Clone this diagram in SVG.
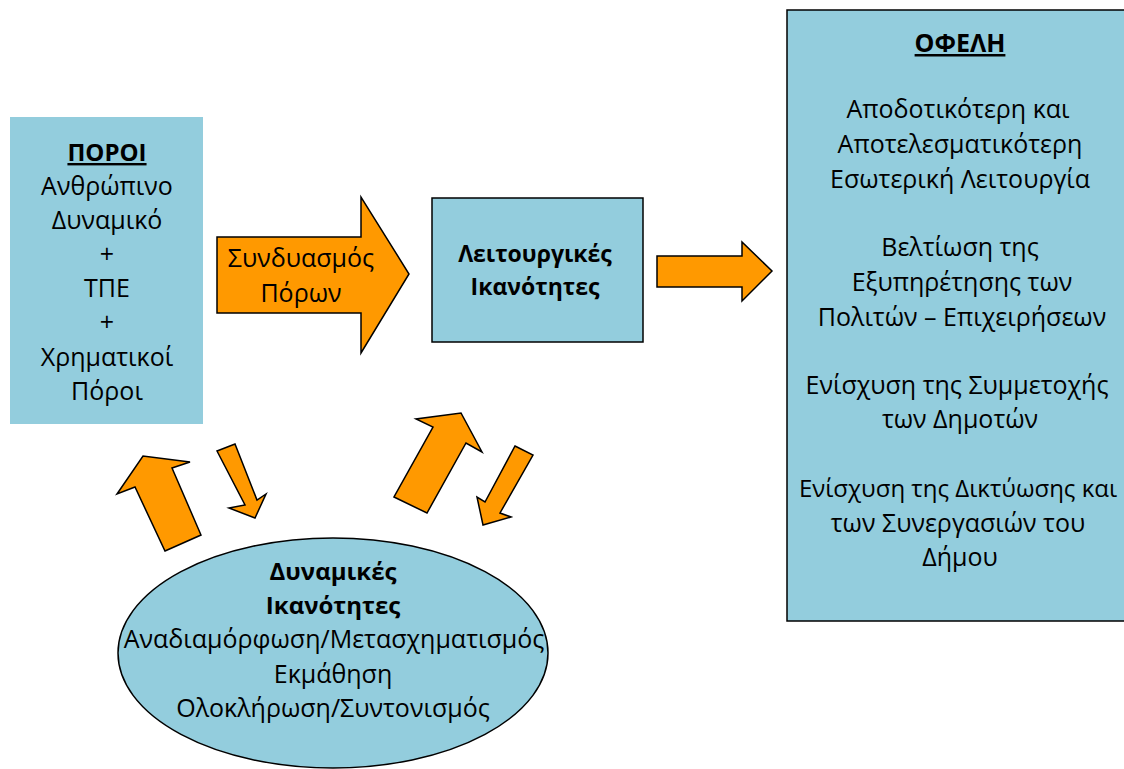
<svg xmlns="http://www.w3.org/2000/svg" width="1124" height="769" viewBox="0 0 1124 769">
<style>
text{font-family:"Open Sans","Noto Sans","DejaVu Sans",sans-serif;font-size:25px;fill:#000;text-anchor:middle}
.b{font-weight:bold;font-size:24px}
.u{text-decoration:underline}
.box{fill:#93CDDD}
.bx{fill:#93CDDD;stroke:#000;stroke-width:1.5}
.arr{fill:#FF9900;stroke:#000;stroke-width:1.5;stroke-linejoin:miter}
</style>
<rect width="1124" height="769" fill="#fff"/>
<g id="poroi">
<rect class="box" x="10" y="117" width="193" height="307"/>
<text x="107" y="161" class="b u">ΠΟΡΟΙ</text>
<text x="107" y="195">Ανθρώπινο</text>
<text x="107" y="229">Δυναμικό</text>
<text x="107" y="263">+</text>
<text x="107" y="297">ΤΠΕ</text>
<text x="107" y="331">+</text>
<text x="107" y="366">Χρηματικοί</text>
<text x="107" y="400">Πόροι</text>
</g>
<g id="leitourgikes">
<rect class="bx" x="432" y="198" width="211" height="144"/>
<text x="535" y="262" class="b" style="font-size:23px">Λειτουργικές</text>
<text x="535" y="295" class="b" style="font-size:23px">Ικανότητες</text>
</g>
<g id="ofeli">
<rect class="bx" x="787" y="10" width="345" height="611"/>
<text x="960" y="52" class="b u" style="font-size:25px">ΟΦΕΛΗ</text>
<text x="958" y="118">Αποδοτικότερη και</text>
<text x="960" y="153">Αποτελεσματικότερη</text>
<text x="960" y="188">Εσωτερική Λειτουργία</text>
<text x="960" y="256">Βελτίωση της</text>
<text x="962" y="291">Εξυπηρέτησης των</text>
<text x="962" y="326">Πολιτών – Επιχειρήσεων</text>
<text x="957" y="394">Ενίσχυση της Συμμετοχής</text>
<text x="960" y="428">των Δημοτών</text>
<text x="958" y="497" style="font-size:24px">Ενίσχυση της Δικτύωσης και</text>
<text x="958" y="532">των Συνεργασιών του</text>
<text x="960" y="566">Δήμου</text>
</g>
<g id="dynamikes">
<ellipse class="bx" cx="333" cy="653" rx="215" ry="115"/>
<text x="333" y="580" class="b">Δυναμικές</text>
<text x="333" y="614" class="b">Ικανότητες</text>
<text x="334" y="648">Αναδιαμόρφωση/Μετασχηματισμός</text>
<text x="333" y="683">Εκμάθηση</text>
<text x="333" y="717">Ολοκλήρωση/Συντονισμός</text>
</g>
<g id="connectors">
<g id="syndyasmos">
<polygon class="arr" points="217,237 361,237 361,197 409,274 361,353 361,313 217,313"/>
<text x="301" y="267">Συνδυασμός</text>
<text x="301" y="302">Πόρων</text>
</g>
<polygon class="arr" points="657,256 742,256 742,242 772,271 742,301 742,287 657,287"/>
<polygon class="arr" points="165,551 201,535 172,468 190,462 143,456 117,494 135,487"/>
<polygon class="arr" points="217,451 235,444 257,500 266,494 255,518 229,508 245,505"/>
<polygon class="arr" points="394,497 427,513 466,443 482,452 461,413 416,419 433,427"/>
<polygon class="arr" points="515,446 533,455 500,513 511,517 483,525 477,497 485,502"/>
</g>
</svg>
